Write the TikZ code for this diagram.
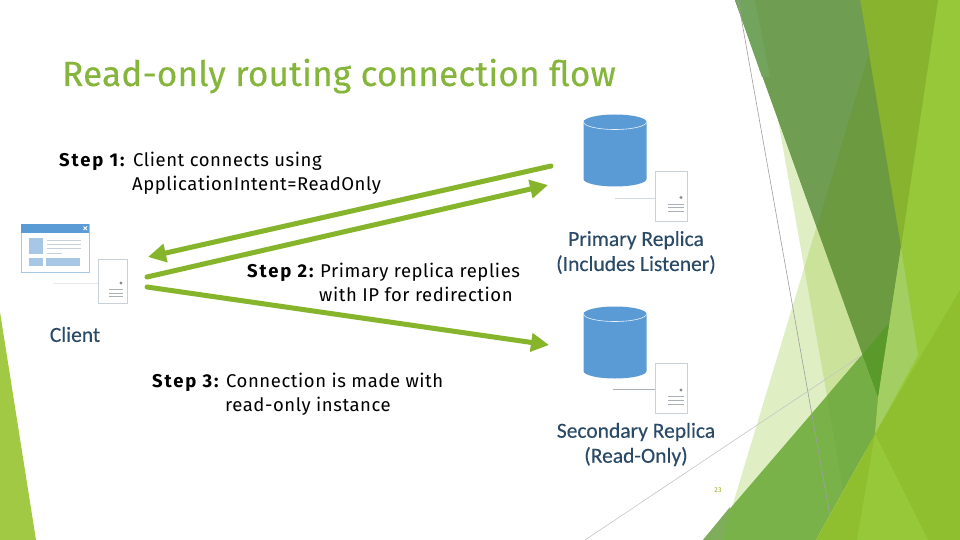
\documentclass[tikz,border=0pt]{standalone}
\usepackage{fontspec}
\setmainfont{Fira Sans}[LetterSpace=3,BoldFeatures={LetterSpace=10}]
\newfontfamily\titlefont{Fira Sans}[LetterSpace=0.7,FakeBold=0.35]
\newfontfamily\labelfont{Carlito}[FakeBold=0.2]
\usetikzlibrary{arrows.meta}
\definecolor{arrowgreen}{HTML}{86B52C}
\definecolor{titlegreen}{HTML}{85B53A}
\definecolor{dbblue}{HTML}{5B9BD5}
\definecolor{paleblue}{HTML}{A8C6E6}
\definecolor{labelblue}{HTML}{2B4A68}
\definecolor{boxedge}{HTML}{C8D0DA}
\definecolor{stubline}{HTML}{D4D9E0}
\definecolor{barline}{HTML}{A9B0B8}
\definecolor{pageno}{HTML}{90B020}
\definecolor{HTMLlime}{HTML}{A2C944}
\definecolor{HTMLbright}{HTML}{96C83A}
\definecolor{HTMLolive}{HTML}{87B32E}
\definecolor{HTMLfacet}{HTML}{90C226}
\definecolor{HTMLdark}{HTML}{6B9A40}
\definecolor{HTMLdarkl}{HTML}{6F9D52}
\definecolor{HTMLstrip}{HTML}{72A45E}
\definecolor{HTMLdeep}{HTML}{5A9A2A}
\definecolor{HTMLmid}{HTML}{7AB24A}
\definecolor{HTMLmidb}{HTML}{74AE45}
\definecolor{HTMLmidg}{HTML}{7FAE5A}
\definecolor{HTMLpale}{HTML}{A2CE62}
\definecolor{HTMLlow}{HTML}{8FBF2E}
\tikzset{
  stepnote/.style={anchor=west,inner sep=0,align=left,font=\fontsize{18.5}{24}\selectfont,text=black},
  replica/.style={inner sep=0,align=center,text=labelblue,font=\labelfont\fontsize{21.5}{25}\selectfont},
  flow/.style={draw=arrowgreen,line width=5pt,line cap=round,-{Triangle[length=18pt,width=18pt]}},
  facet/.style={draw=none},
  hairline/.style={draw=gray!75,line width=0.6pt},
  servercase/.style={draw=boxedge,fill=white,line width=0.7pt},
  bar/.style={draw=barline,line width=1pt},
  stub/.style={draw=stubline,line width=0.8pt}
}
\newcommand{\dbdrum}[2]{% x left, y top
  \fill[dbblue] (#1,#2+7) arc[start angle=180,end angle=360,x radius=31.5,y radius=7.5]
     -- (#1+63,#2+64) arc[start angle=0,end angle=180,x radius=31.5,y radius=7.5] -- cycle;
  \draw[white!85!dbblue,line width=0.6pt] (#1,#2+7) arc[start angle=180,end angle=0,x radius=31.5,y radius=7.5];
}
\newcommand{\srvdetail}[2]{% x left, y dot
  \fill[barline!80!black] (#1+26,#2) circle[radius=1.6];
  \draw[bar] (#1+13,#2+6.5) -- ++(16,0);
  \draw[bar] (#1+13,#2+10.2) -- ++(16,0);
  \draw[bar] (#1+13,#2+14) -- ++(16,0);
}
\newcommand{\steplead}[2]{\makebox[#1][l]{\textbf{#2}}}
\begin{document}
\begin{tikzpicture}[x=1pt,y=-1pt]
\useasboundingbox (0,0) rectangle (960,540);
\fill[white] (0,0) rectangle (960,540);
\begin{scope}
\clip (0,0) rectangle (960,540);
% left sliver
\fill[facet,fill=HTMLlime] (0,312) -- (36,540) -- (0,540) -- cycle;
% facets on the right
\fill[facet,fill=HTMLbright] (933,0) -- (960,0) -- (960,540) -- (852,540) -- cycle;
\fill[facet,fill=HTMLolive] (860,0) -- (938,0) -- (901,247) -- (890,247) -- cycle;
\fill[facet,fill=HTMLfacet,fill opacity=.27] (778,120) -- (827,396) -- (880,340) -- (850,200) -- cycle;
\fill[facet,fill=HTMLfacet,fill opacity=.27] (869,53) -- (732,507) -- (864,358) -- (878,300) -- cycle;
\fill[facet,fill=HTMLdark] (735,0) -- (860,0) -- (901,247) -- (878,398) -- cycle;
\fill[facet,fill=HTMLdarkl] (735,0) -- (860,0) -- (869,53) -- (817,227) -- cycle;
\fill[facet,fill=HTMLstrip] (735,0) -- (755,0) -- (770,77) -- (762,77) -- cycle;
\fill[facet,fill=HTMLdeep] (862,355) -- (890,322) -- (878,398) -- cycle;
\fill[facet,fill=HTMLmid] (703,540) -- (862,355) -- (878,398) -- (875,434) -- (816,540) -- cycle;
\fill[facet,fill=HTMLmidb] (827,396) -- (843,490) -- (875,434) -- (878,398) -- (862,355) -- cycle;
\fill[facet,fill=HTMLmidg] (703,540) -- (730,507) -- (723,540) -- cycle;
\fill[facet,fill=HTMLpale] (901,247) -- (918,355) -- (875,434) -- (878,398) -- cycle;
\fill[facet,fill=HTMLlow] (816,540) -- (875,434) -- (960,290) -- (960,540) -- cycle;
\fill[facet,fill=HTMLbright] (857,540) -- (875,434) -- (928,540) -- cycle;
\coordinate (hairAtop) at (738,0);
\coordinate (hairAend) at (830,516);
\coordinate (hairBtop) at (862,355);
\coordinate (hairBend) at (585,540);
\draw[hairline] (hairAtop) -- (hairAend);
\draw[hairline,draw=gray!45] (hairBtop) -- (hairBend);
\end{scope}

% title
\node[anchor=base west,inner sep=0,text=titlegreen,font=\titlefont\fontsize{35}{40}\selectfont] (title) at (62,86) {Read-only routing connection flow};

% primary
\dbdrum{583.5}{115}
\coordinate (pstub) at (615,198);
\node[servercase,minimum width=32pt,minimum height=50pt,inner sep=0,anchor=north west] (psrv) at (655,171) {};
\draw[stub] (pstub) -- (psrv.west |- pstub);
\srvdetail{655}{197.5}
\node[replica] (plabel) at (636,252.5) {Primary Replica\\(Includes Listener)};

% secondary
\dbdrum{583.5}{307}
\coordinate (sstub) at (613,389);
\node[servercase,minimum width=32pt,minimum height=50pt,inner sep=0,anchor=north west] (ssrv) at (655,363) {};
\draw[stub,draw=barline] (sstub) -- (ssrv.west |- sstub);
\srvdetail{655}{390}
\node[replica] (slabel) at (636,444.5) {Secondary Replica\\(Read-Only)};

% client
\node[draw=paleblue,fill=white,line width=0.7pt,minimum width=68pt,minimum height=48pt,inner sep=0,anchor=north west] (win) at (21,224) {};
\fill[dbblue] (21,224) rectangle (89,233);
\draw[white,line width=0.8pt] (83.5,226.5) -- (87,230) (87,226.5) -- (83.5,230);
\fill[paleblue] (29,238) rectangle (43,254);
\fill[paleblue] (29,258) rectangle (43,266);
\fill[paleblue] (46,258) rectangle (80,266);
\draw[boxedge,line width=1pt] (47,240.5) -- (81,240.5) (47,244.5) -- (81,244.5) (47,248.5) -- (81,248.5) (47,253) -- (62,253);
\coordinate (cstub) at (54,283.5);
\node[servercase,minimum width=29pt,minimum height=44pt,inner sep=0,anchor=north west] (csrv) at (98,259) {};
\draw[stub,draw=stubline!60] (cstub) -- (csrv.west |- cstub);
\fill[barline!80!black] (121,283) circle[radius=1.6];
\draw[bar] (109,289.5) -- ++(14,0) (109,293) -- ++(14,0) (109,296.5) -- ++(14,0);
\node[replica] (clabel) at (75,334.5) {Client};

% arrows
\coordinate (a1s) at (551,166);
\coordinate (a1e) at (148,257);
\coordinate (a2s) at (147,277);
\coordinate (a2e) at (548,185);
\coordinate (a3s) at (147,287);
\coordinate (a3e) at (549,345);
\draw[flow] (a1s) -- (a1e);
\draw[flow] (a2s) -- (a2e);
\draw[flow] (a3s) -- (a3e);

% notes
\node[stepnote] (s1) at (59,173) {\steplead{74pt}{Step 1:}Client connects using\\\hspace*{73pt}ApplicationIntent=ReadOnly};
\node[stepnote] (s2) at (247,282) {\steplead{73pt}{Step 2:}Primary replica replies\\\hspace*{72pt}with IP for redirection};
\node[stepnote] (s3) at (152,394) {\steplead{74pt}{Step 3:}Connection is made with\\\hspace*{73pt}read-only instance};

\node[inner sep=0,text=pageno,font=\fontsize{7}{8}\selectfont] (page) at (718,490) {23};
\end{tikzpicture}
\end{document}
